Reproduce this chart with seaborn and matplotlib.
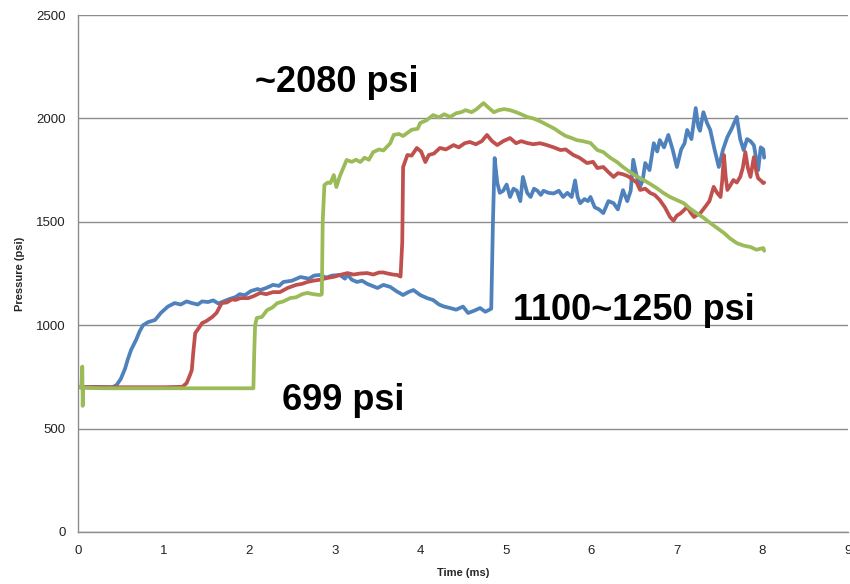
import matplotlib
matplotlib.use("Agg")
import matplotlib.pyplot as plt
import seaborn as sns
import pandas as pd

# ---- data (time in ms, pressure in psi) ----
blue_t = [0.02, 0.2, 0.4, 0.45, 0.5, 0.55, 0.58, 0.62, 0.68, 0.72, 0.76, 0.82, 0.9, 0.97, 1.05, 1.13, 1.2, 1.27,
          1.33, 1.4, 1.45, 1.52, 1.58, 1.64, 1.7, 1.76, 1.84, 1.89, 1.95, 2.02, 2.1, 2.13, 2.2, 2.28, 2.35, 2.4,
          2.5, 2.6, 2.7, 2.76, 2.83, 2.9, 2.97, 3.06, 3.12, 3.15, 3.2, 3.26, 3.32, 3.38, 3.44, 3.5, 3.57, 3.65,
          3.72, 3.8, 3.86, 3.92, 4.0, 4.08, 4.15, 4.22, 4.28, 4.35, 4.42, 4.5, 4.56, 4.63, 4.7, 4.76, 4.8, 4.83,
          4.85, 4.87, 4.9, 4.93, 4.97, 5.01, 5.05, 5.09, 5.13, 5.17, 5.2, 5.25, 5.29, 5.33, 5.37, 5.41, 5.44,
          5.5, 5.56, 5.62, 5.67, 5.72, 5.77, 5.81, 5.84, 5.87, 5.92, 5.96, 5.99, 6.04, 6.09, 6.14, 6.2, 6.26,
          6.31, 6.37, 6.42, 6.46, 6.49, 6.53, 6.57, 6.6, 6.63, 6.68, 6.73, 6.77, 6.8, 6.85, 6.9, 6.95, 7.0,
          7.05, 7.09, 7.12, 7.17, 7.22, 7.25, 7.27, 7.31, 7.35, 7.39, 7.44, 7.49, 7.54, 7.59, 7.64, 7.7, 7.74,
          7.78, 7.82, 7.86, 7.9, 7.95, 7.98, 8.01, 8.02]
blue_p = [700, 702, 700, 710, 740, 790, 832, 880, 930, 970, 1000, 1015, 1025, 1060, 1090, 1107, 1100, 1115,
          1107, 1100, 1115, 1112, 1120, 1105, 1115, 1125, 1136, 1150, 1145, 1165, 1175, 1170, 1180, 1195, 1190, 1209,
          1215, 1233, 1225, 1240, 1243, 1230, 1240, 1243, 1225, 1245, 1220, 1209, 1215, 1200, 1190, 1180, 1195, 1185,
          1165, 1146, 1160, 1170, 1146, 1131, 1122, 1100, 1090, 1083, 1075, 1090, 1059, 1070, 1083, 1065, 1073, 1080,
          1500, 1808, 1690, 1640, 1650, 1680, 1620, 1660, 1650, 1600, 1717, 1640, 1620, 1660, 1650, 1630, 1650,
          1640, 1637, 1650, 1620, 1640, 1620, 1700, 1620, 1590, 1610, 1600, 1620, 1570, 1560, 1542, 1600, 1590,
          1560, 1653, 1600, 1650, 1800, 1720, 1670, 1700, 1784, 1750, 1880, 1840, 1895, 1860, 1920, 1850, 1765,
          1850, 1880, 1944, 1900, 2050, 1960, 1940, 2030, 1980, 1944, 1850, 1765, 1850, 1910, 1950, 2007, 1900,
          1847, 1900, 1890, 1870, 1750, 1860, 1850, 1810]

red_t = [0.02, 0.5, 1.0, 1.22, 1.27, 1.31, 1.33, 1.35, 1.37, 1.41, 1.45, 1.5, 1.57, 1.62, 1.68, 1.74, 1.8, 1.84,
         1.9, 1.99, 2.05, 2.13, 2.2, 2.28, 2.36, 2.45, 2.55, 2.62, 2.68, 2.75, 2.83, 2.91, 3.0, 3.08, 3.15, 3.22,
         3.3, 3.38, 3.45, 3.52, 3.57, 3.62, 3.68, 3.73, 3.77, 3.79, 3.8, 3.83, 3.85, 3.9, 3.96, 4.01, 4.06, 4.1,
         4.16, 4.23, 4.3, 4.39, 4.45, 4.52, 4.58, 4.65, 4.72, 4.78, 4.84, 4.9, 4.97, 5.05, 5.12, 5.18, 5.25, 5.32,
         5.4, 5.48, 5.56, 5.64, 5.7, 5.79, 5.86, 5.95, 6.02, 6.07, 6.14, 6.2, 6.26, 6.31, 6.37, 6.43, 6.49, 6.53,
         6.57, 6.63, 6.69, 6.74, 6.8, 6.86, 6.92, 6.96, 7.0, 7.04, 7.08, 7.12, 7.16, 7.2, 7.24, 7.27, 7.33, 7.38,
         7.43, 7.47, 7.51, 7.53, 7.55, 7.57, 7.59, 7.63, 7.66, 7.7, 7.74, 7.77, 7.8, 7.83, 7.86, 7.9, 7.93, 7.95,
         7.98, 8.01, 8.02]
red_p = [700, 700, 700, 702, 720, 760, 783, 880, 962, 985, 1010, 1020, 1040, 1060, 1107, 1110, 1125, 1122,
         1131, 1131, 1140, 1156, 1150, 1160, 1160, 1180, 1195, 1200, 1209, 1215, 1220, 1228, 1235, 1245, 1252, 1245,
         1250, 1252, 1245, 1255, 1255, 1250, 1245, 1243, 1235, 1400, 1765, 1800, 1823, 1820, 1857, 1840, 1789, 1823,
         1830, 1857, 1850, 1871, 1860, 1880, 1886, 1875, 1890, 1920, 1890, 1871, 1890, 1905, 1880, 1890, 1881, 1875,
         1880, 1871, 1860, 1847, 1850, 1823, 1810, 1784, 1790, 1760, 1765, 1740, 1717, 1735, 1730, 1720, 1702, 1690,
         1654, 1660, 1639, 1630, 1605, 1570, 1523, 1505, 1530, 1540, 1555, 1572, 1545, 1523, 1535, 1540, 1572, 1600,
         1669, 1640, 1620, 1700, 1823, 1720, 1654, 1680, 1702, 1690, 1717, 1760, 1837, 1760, 1717, 1813, 1740, 1710,
         1700, 1687, 1690]

green_t = [0.02, 0.04, 0.05, 0.055, 0.06, 0.3, 0.8, 1.3, 1.8, 2.05, 2.06, 2.07, 2.09, 2.15, 2.21, 2.27, 2.33, 2.4,
           2.48, 2.55, 2.62, 2.68, 2.75, 2.83, 2.85, 2.86, 2.88, 2.92, 2.95, 2.99, 3.02, 3.06, 3.1, 3.14, 3.2, 3.25,
           3.3, 3.35, 3.4, 3.45, 3.52, 3.57, 3.61, 3.65, 3.69, 3.75, 3.8, 3.85, 3.9, 3.97, 4.0, 4.07, 4.15, 4.22,
           4.28, 4.35, 4.42, 4.48, 4.53, 4.6, 4.66, 4.7, 4.74, 4.79, 4.86, 4.92, 4.98, 5.05, 5.12, 5.18, 5.25, 5.32,
           5.38, 5.44, 5.5, 5.57, 5.64, 5.7, 5.77, 5.83, 5.9, 5.99, 6.07, 6.14, 6.22, 6.3, 6.37, 6.45, 6.53, 6.61,
           6.68, 6.76, 6.84, 6.92, 7.0, 7.08, 7.15, 7.23, 7.31, 7.39, 7.47, 7.55, 7.62, 7.7, 7.78, 7.86, 7.93, 8.01,
           8.02]
green_p = [699, 699, 800, 610, 697, 695, 695, 695, 695, 695, 870, 1000, 1035, 1040, 1073, 1085, 1107, 1115,
           1131, 1135, 1150, 1156, 1150, 1146, 1150, 1500, 1678, 1690, 1687, 1726, 1668, 1720, 1760, 1799, 1790, 1800,
           1789, 1810, 1800, 1837, 1850, 1845, 1862, 1880, 1920, 1925, 1915, 1930, 1945, 1950, 1978, 1990, 2016, 2005,
           2020, 2007, 2025, 2030, 2040, 2030, 2045, 2060, 2074, 2055, 2030, 2040, 2045, 2040, 2030, 2020, 2007, 2000,
           1990, 1978, 1965, 1950, 1930, 1915, 1905, 1895, 1890, 1881, 1847, 1837, 1810, 1789, 1765, 1741, 1720, 1702,
           1685, 1664, 1640, 1620, 1605, 1590, 1565, 1542, 1520, 1494, 1470, 1446, 1420, 1397, 1385, 1378, 1365, 1373,
           1360]

series_names = ["Blue", "Red", "Green"]
series_colors = ["#4F81BD", "#C0504D", "#9BBB59"]
x_ticks = list(range(0, 10))
y_ticks = [0, 500, 1000, 1500, 2000, 2500]
annotations = [("~2080 psi", 2.07, 2176), ("1100~1250 psi", 5.09, 1073), ("699 psi", 2.385, 638)]

frames = []
for name, t, p in zip(series_names, [blue_t, red_t, green_t], [blue_p, red_p, green_p]):
    frames.append(pd.DataFrame({"Time (ms)": t, "Pressure (psi)": p, "series": name}))
df = pd.concat(frames, ignore_index=True)

sns.set_theme(style="white")
plt.rcParams["font.family"] = ["Liberation Sans", "DejaVu Sans"]

fig = plt.figure(figsize=(8.5, 5.84), dpi=100)
ax = fig.add_axes([78 / 850, 1 - 532 / 584, (848 - 78) / 850, (532 - 15) / 584])

sns.lineplot(data=df, x="Time (ms)", y="Pressure (psi)", hue="series", hue_order=series_names,
             palette=series_colors, estimator=None, sort=False, linewidth=2.7, legend=False, ax=ax)

ax.set_xlim(0, 9)
ax.set_ylim(0, 2500)
ax.set_xticks(x_ticks)
ax.set_yticks(y_ticks)
ax.yaxis.grid(True, color="#8C8C8C", linewidth=1.0)
ax.xaxis.grid(False)
ax.set_axisbelow(True)
for s in ["top", "right"]:
    ax.spines[s].set_visible(False)
for s in ["left", "bottom"]:
    ax.spines[s].set_color("#8C8C8C")
    ax.spines[s].set_linewidth(1.0)
ax.tick_params(axis="both", which="major", direction="out", length=4, width=1, color="#8C8C8C",
               labelsize=9.5, labelcolor="#222222", pad=5)
ax.set_xlabel("Time (ms)", fontsize=8, fontweight="bold", labelpad=8)
ax.set_ylabel("Pressure (psi)", fontsize=8, fontweight="bold", labelpad=8)

for txt, x, y in annotations:
    ax.text(x, y, txt, fontsize=26, fontweight="bold", ha="left", va="center", color="black",
            family=["Liberation Sans", "DejaVu Sans"])

fig.savefig("out.png", dpi=100)
